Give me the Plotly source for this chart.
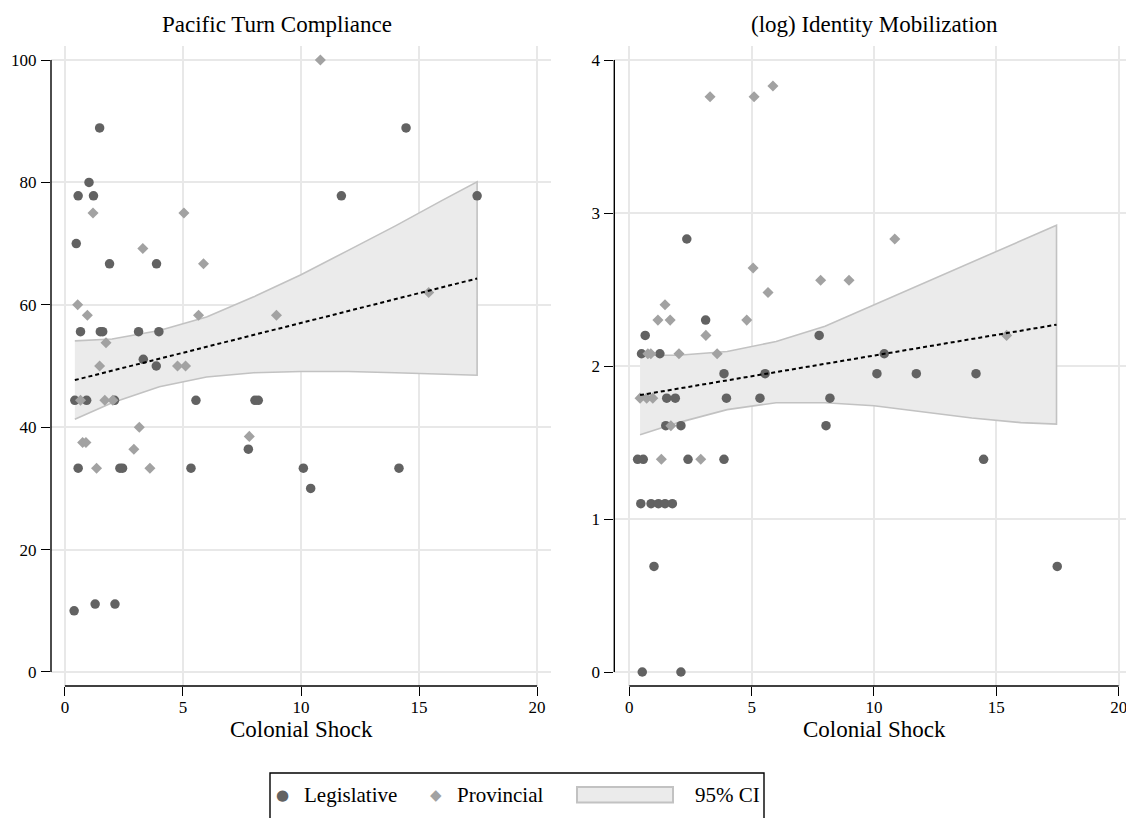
import plotly.graph_objects as go

# ---- Pacific Turn Compliance (left panel) ----
left_leg_x = [1.47, 1.02, 0.56, 1.21, 0.48, 1.89, 3.88, 0.66, 1.50, 1.60, 3.12, 3.98, 3.32, 3.87,
              0.42, 0.92, 2.10, 5.55, 8.05, 8.19, 7.77, 0.56, 2.33, 2.44, 5.34, 0.39, 1.28, 2.12,
              10.10, 14.15, 10.41, 14.45, 11.71, 17.46]
left_leg_y = [88.9, 80.0, 77.8, 77.8, 70.0, 66.7, 66.7, 55.6, 55.6, 55.6, 55.6, 55.6, 51.1, 50.0,
              44.4, 44.4, 44.4, 44.4, 44.4, 44.4, 36.4, 33.3, 33.3, 33.3, 33.3, 10.0, 11.1, 11.1,
              33.3, 33.3, 30.0, 88.9, 77.8, 77.8]
left_prov_x = [10.82, 1.19, 5.04, 3.30, 5.87, 0.54, 0.95, 5.66, 8.96, 1.74, 1.47, 4.77, 5.11,
               0.66, 1.69, 2.03, 3.15, 0.75, 0.89, 2.92, 7.81, 1.34, 3.60, 15.41]
left_prov_y = [100.0, 75.0, 75.0, 69.2, 66.7, 60.0, 58.3, 58.3, 58.3, 53.8, 50.0, 50.0, 50.0,
               44.4, 44.4, 44.4, 40.0, 37.5, 37.5, 36.4, 38.5, 33.3, 33.3, 62.0]
left_fit_x = [0.42, 17.46]
left_fit_y = [47.7, 64.3]
left_ci_x = [0.42, 2, 4, 6, 8, 10, 12, 14, 16, 17.46]
left_ci_hi = [54.1, 54.4, 55.8, 58.0, 61.3, 64.9, 68.9, 72.9, 77.1, 80.1]
left_ci_lo = [41.3, 44.0, 46.6, 48.2, 48.9, 49.1, 49.1, 48.9, 48.7, 48.5]

# ---- (log) Identity Mobilization (right panel) ----
right_leg_x = [2.35, 3.12, 0.65, 7.76, 0.50, 1.25, 10.42, 3.87, 5.55, 10.12, 11.73, 14.17,
               1.53, 1.88, 3.97, 5.34, 8.20, 1.49, 2.11, 8.04, 0.34, 0.57, 2.40, 3.87,
               0.47, 0.89, 1.19, 1.46, 1.76, 1.01, 0.53, 2.11, 14.48, 17.49]
right_leg_y = [2.83, 2.30, 2.20, 2.20, 2.08, 2.08, 2.08, 1.95, 1.95, 1.95, 1.95, 1.95,
               1.79, 1.79, 1.79, 1.79, 1.79, 1.61, 1.61, 1.61, 1.39, 1.39, 1.39, 1.39,
               1.10, 1.10, 1.10, 1.10, 1.10, 0.69, 0.00, 0.00, 1.39, 0.69]
right_prov_x = [3.30, 5.10, 5.87, 5.06, 5.67, 7.82, 8.98, 1.46, 1.17, 1.67, 4.80, 3.13,
                15.42, 0.76, 0.88, 2.03, 3.59, 10.85, 0.44, 0.71, 0.96, 1.70, 1.31, 2.92]
right_prov_y = [3.76, 3.76, 3.83, 2.64, 2.48, 2.56, 2.56, 2.40, 2.30, 2.30, 2.30, 2.20,
                2.20, 2.08, 2.08, 2.08, 2.08, 2.83, 1.79, 1.79, 1.79, 1.61, 1.39, 1.39]
right_fit_x = [0.44, 17.46]
right_fit_y = [1.81, 2.27]
right_ci_x = [0.44, 2, 4, 6, 8, 10, 12, 14, 16, 17.46]
right_ci_hi = [2.07, 2.07, 2.095, 2.16, 2.26, 2.40, 2.54, 2.68, 2.82, 2.92]
right_ci_lo = [1.55, 1.63, 1.715, 1.76, 1.76, 1.74, 1.70, 1.66, 1.63, 1.62]

panel_titles = ["Pacific Turn Compliance", "(log) Identity Mobilization"]
x_title = "Colonial Shock"
x_ticks = [0, 5, 10, 15, 20]
left_y_ticks = [0, 20, 40, 60, 80, 100]
right_y_ticks = [0, 1, 2, 3, 4]
legend_labels = ["Legislative", "Provincial", "95% CI"]

W, H = 1126, 818
SERIF = "Liberation Serif"
LEG_COLOR = "#626262"
PROV_COLOR = "#a2a2a2"
BAND_FILL = "#ebebeb"
BAND_LINE = "#c2c2c2"
GRID = "#e8e8e8"


def px_x(p):
    return p / W


def px_y(p):
    return 1 - p / H


fig = go.Figure()


def add_panel(xa, ya, ci_x, ci_hi, ci_lo, fit_x, fit_y, lx, ly, px_, py_):
    # confidence band as a closed polygon
    fig.add_trace(go.Scatter(
        x=list(ci_x) + list(ci_x)[::-1], y=list(ci_hi) + list(ci_lo)[::-1],
        fill="toself", fillcolor=BAND_FILL, mode="lines",
        line=dict(color=BAND_LINE, width=1.6), xaxis=xa, yaxis=ya,
        showlegend=False, hoverinfo="skip"))
    fig.add_trace(go.Scatter(
        x=lx, y=ly, mode="markers", xaxis=xa, yaxis=ya, showlegend=False,
        marker=dict(symbol="circle", size=9.5, color=LEG_COLOR, line=dict(width=0))))
    fig.add_trace(go.Scatter(
        x=px_, y=py_, mode="markers", xaxis=xa, yaxis=ya, showlegend=False,
        marker=dict(symbol="diamond", size=8.5, color=PROV_COLOR, line=dict(width=0))))
    fig.add_trace(go.Scatter(
        x=fit_x, y=fit_y, mode="lines", xaxis=xa, yaxis=ya, showlegend=False,
        line=dict(color="black", width=2, dash="4px,3px")))


add_panel("x", "y", left_ci_x, left_ci_hi, left_ci_lo, left_fit_x, left_fit_y,
          left_leg_x, left_leg_y, left_prov_x, left_prov_y)
add_panel("x2", "y2", right_ci_x, right_ci_hi, right_ci_lo, right_fit_x, right_fit_y,
          right_leg_x, right_leg_y, right_prov_x, right_prov_y)

plot_top, plot_bottom = 46, 686
y_dom = [px_y(plot_bottom), px_y(plot_top)]

axis_common = dict(
    showgrid=True, gridcolor=GRID, gridwidth=1.5, zeroline=False, showline=False,
    ticks="outside", ticklen=9, tickwidth=1.3, tickcolor="black",
    tickfont=dict(family=SERIF, size=17, color="black"), ticklabeloverflow="allow",
)

fig.update_layout(
    width=W, height=H, margin=dict(l=0, r=0, t=0, b=0),
    font=dict(family=SERIF, color="black"),
    paper_bgcolor="white", plot_bgcolor="white", showlegend=False,
    xaxis=dict(domain=[px_x(51), px_x(551)], range=[-0.59, 20.59], tickvals=x_ticks,
               anchor="y", ticklabelstandoff=-3, **axis_common),
    yaxis=dict(domain=y_dom, range=[-2.29, 102.29], tickvals=left_y_ticks,
               anchor="x", ticklabelstandoff=1, **axis_common),
    xaxis2=dict(domain=[px_x(614.3), 1.0], range=[-0.613, 20.3], tickvals=x_ticks,
                anchor="y2", ticklabelstandoff=-3, **axis_common),
    yaxis2=dict(domain=y_dom, range=[-0.0915, 4.0915], tickvals=right_y_ticks,
                anchor="x2", ticklabelstandoff=1, **axis_common),
)

# axis lines spanning only the labelled range
axis_line = dict(color="black", width=1.4)
shapes = [
    dict(type="line", xref="x", yref="y domain", x0=0, x1=20, y0=0, y1=0, line=axis_line),
    dict(type="line", xref="x domain", yref="y", x0=0, x1=0, y0=0, y1=100, line=axis_line),
    dict(type="line", xref="x2", yref="y2 domain", x0=0, x1=20, y0=0, y1=0, line=axis_line),
    dict(type="line", xref="x2 domain", yref="y2", x0=0, x1=0, y0=0, y1=4, line=axis_line),
]

annotations = [
    dict(text=panel_titles[0], x=px_x(277), y=px_y(24), xref="paper", yref="paper",
         showarrow=False, xanchor="center", yanchor="middle",
         font=dict(family=SERIF, size=23, color="black")),
    dict(text=panel_titles[1], x=px_x(874), y=px_y(24), xref="paper", yref="paper",
         showarrow=False, xanchor="center", yanchor="middle",
         font=dict(family=SERIF, size=23, color="black")),
    dict(text=x_title, x=px_x(301), y=px_y(729), xref="paper", yref="paper",
         showarrow=False, xanchor="center", yanchor="middle",
         font=dict(family=SERIF, size=23, color="black")),
    dict(text=x_title, x=px_x(874), y=px_y(729), xref="paper", yref="paper",
         showarrow=False, xanchor="center", yanchor="middle",
         font=dict(family=SERIF, size=23, color="black")),
]

# legend box at the bottom
shapes.append(dict(type="rect", xref="paper", yref="paper",
                   x0=px_x(270), x1=px_x(764), y0=px_y(840), y1=px_y(773),
                   line=dict(color="black", width=1.4), fillcolor="white"))
shapes.append(dict(type="rect", xref="paper", yref="paper",
                   x0=px_x(577), x1=px_x(673), y0=px_y(802.5), y1=px_y(787),
                   line=dict(color=BAND_LINE, width=2), fillcolor=BAND_FILL))
legend_y = px_y(795)
annotations += [
    dict(text="\u25CF", x=px_x(282.7), y=legend_y, xref="paper", yref="paper", showarrow=False,
         xanchor="center", yanchor="middle",
         font=dict(family="DejaVu Sans", size=15, color=LEG_COLOR)),
    dict(text=legend_labels[0], x=px_x(302), y=legend_y, xref="paper", yref="paper",
         showarrow=False, xanchor="left", yanchor="middle",
         font=dict(family=SERIF, size=21, color="black")),
    dict(text="\u25C6", x=px_x(436), y=legend_y, xref="paper", yref="paper", showarrow=False,
         xanchor="center", yanchor="middle",
         font=dict(family="DejaVu Sans", size=15, color=PROV_COLOR)),
    dict(text=legend_labels[1], x=px_x(455), y=legend_y, xref="paper", yref="paper",
         showarrow=False, xanchor="left", yanchor="middle",
         font=dict(family=SERIF, size=21, color="black")),
    dict(text=legend_labels[2], x=px_x(693), y=legend_y, xref="paper", yref="paper",
         showarrow=False, xanchor="left", yanchor="middle",
         font=dict(family=SERIF, size=21, color="black")),
]

fig.update_layout(shapes=shapes, annotations=annotations)
fig.write_html("out.html")
